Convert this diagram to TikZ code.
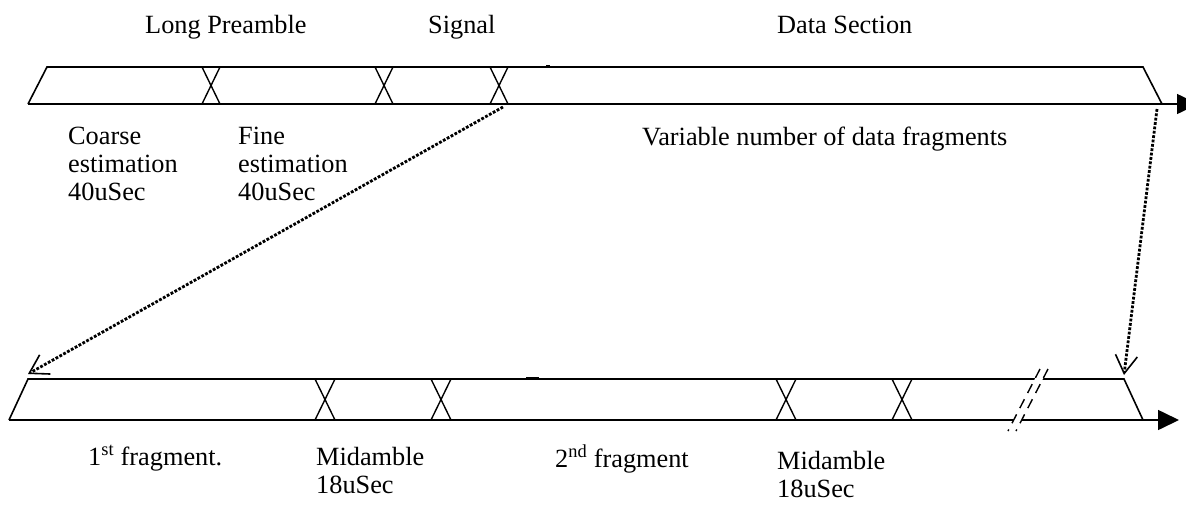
\documentclass[tikz,border=0pt]{standalone}
\usepackage{fontspec}
\setmainfont{Liberation Serif}
\usepackage{tikz}
\usetikzlibrary{arrows,arrows.meta,positioning}
\tikzstyle{frame} = [line width=1.6pt, line join=miter]
\tikzstyle{cross} = [line width=1.4pt]
\tikzstyle{timeline} = [line width=1.6pt,-{Triangle[length=21pt,width=20pt]}]
\tikzstyle{dotlink} = [line width=2.8pt, dash pattern=on 2.8pt off 1.6pt,
  -{Straight Barb[length=18pt,width=22pt,line width=1.6pt]}]
\tikzstyle{breakmark} = [line width=1.4pt, dash pattern=on 10pt off 7pt]
\tikzstyle{txt} = [font=\fontsize{26.3}{28}\selectfont, inner sep=0pt, align=left, anchor=base west]

\begin{document}
\begin{tikzpicture}[x=1pt,y=-1pt]
    \useasboundingbox (0,0) rectangle (1186,504);
    % upper frame
    \coordinate (a1) at (28,104);
    \coordinate (a2) at (47,67);
    \coordinate (a3) at (1143,67);
    \coordinate (a4) at (1162,104);
    \coordinate (aend) at (1198,104);
    \draw[frame] (a1) -- (a2) -- (a3) -- (a4);
    \draw[timeline] (a1) -- (aend);
    \foreach \x in {211,384,499}{
        \draw[cross] (\x-9,67) -- (\x+9,104) (\x+9,67) -- (\x-9,104);
    }
    \draw[line width=2.4pt] (546,66) -- (550,66);

    % lower frame
    \coordinate (b1) at (9,420);
    \coordinate (b2) at (28,379);
    \coordinate (b3) at (1124,379);
    \coordinate (b4) at (1143,420);
    \coordinate (bend) at (1179,420);
    \draw[frame] (b1) -- (b2) -- (b3) -- (b4);
    \draw[timeline] (b1) -- (bend);
    \foreach \x in {325,441,786,902}{
        \draw[cross] (\x-10,379) -- (\x+10,420) (\x+10,379) -- (\x-10,420);
    }
    \draw[line width=2.4pt] (526,378) -- (539,378);

    % break in the lower frame
    \fill[white] (1040,369) -- (1048,369) -- (1016,431) -- (1008,431) -- cycle;
    \draw[breakmark] (1040,369) -- (1008,431);
    \draw[breakmark] (1048,369) -- (1016,431);

    % dotted links
    \coordinate (s1) at (503,107);
    \coordinate (s2) at (1157,109);
    \coordinate (t1) at (28,374);
    \coordinate (t2) at (1124,375);
    \draw[dotlink] (s1) -- (t1);
    \draw[dotlink] (s2) -- (t2);

    % texts
    \node[txt] (lp) at (145,33) {Long Preamble};
    \node[txt] (sig) at (428,33) {Signal};
    \node[txt] (ds) at (777,33) {Data Section};
    \node[txt] (coarse) at (68,200) {Coarse\\estimation\\40uSec};
    \node[txt] (fine) at (238,200) {Fine\\estimation\\40uSec};
    \node[txt] (var) at (642,145) {Variable number of data fragments};
    \node[txt] (frag1) at (88,465) {1\textsuperscript{st} fragment.};
    \node[txt] (mid1) at (316,493) {Midamble\\18uSec};
    \node[txt] (frag2) at (555,467) {2\textsuperscript{nd} fragment};
    \node[txt] (mid2) at (777,497) {Midamble\\18uSec};
\end{tikzpicture}
\end{document}
